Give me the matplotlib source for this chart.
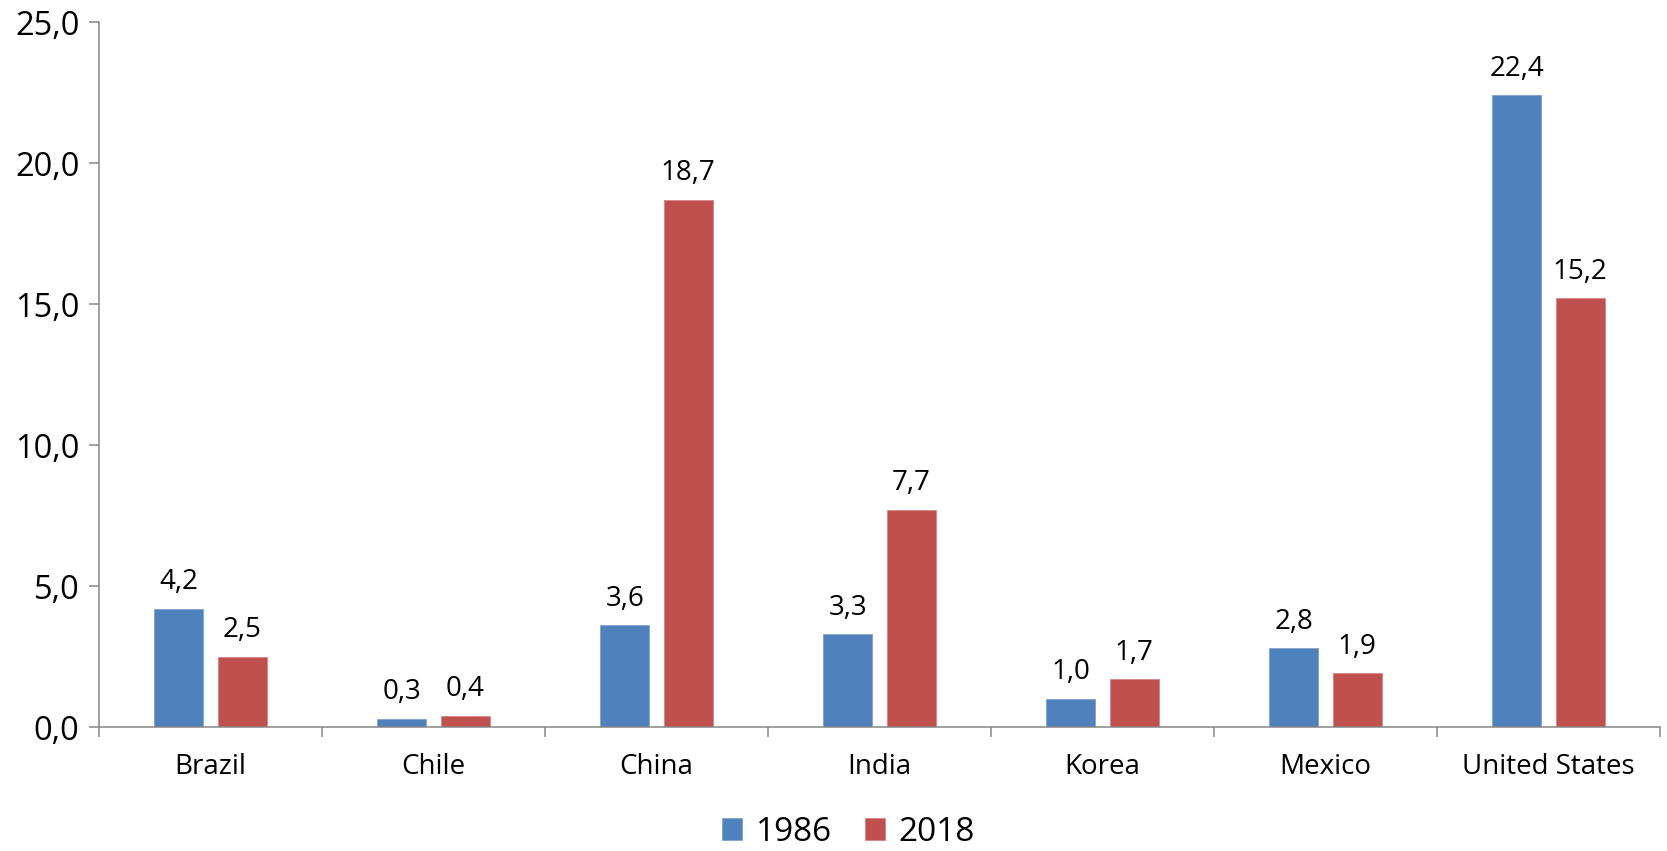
import numpy as np
import matplotlib.pyplot as plt

countries = ["Brazil", "Chile", "China", "India", "Korea", "Mexico", "United States"]
v1986 = [4.2, 0.3, 3.6, 3.3, 1.0, 2.8, 22.4]
v2018 = [2.5, 0.4, 18.7, 7.7, 1.7, 1.9, 15.2]
yticks = [0, 5, 10, 15, 20, 25]

blue = "#4F81BD"
red = "#C0504D"
axis_col = "#868686"

plt.rcParams["font.family"] = ["Open Sans", "DejaVu Sans"]

fig = plt.figure(figsize=(16.67, 8.51), dpi=100)
ax = fig.add_axes([0.0594, 0.1457, 0.9958 - 0.0594, 0.9741 - 0.1457])

x = np.arange(len(countries))
w = 0.22
off = 0.142
b1 = ax.bar(x - off, v1986, w, color=blue, edgecolor="#7FA3D1", linewidth=0.6, label="1986")
b2 = ax.bar(x + off, v2018, w, color=red, edgecolor="#D98583", linewidth=0.6, label="2018")

for bars in (b1, b2):
    for rect in bars:
        h = rect.get_height()
        ax.annotate(f"{h:.1f}".replace(".", ","),
                    (rect.get_x() + rect.get_width() / 2, h),
                    xytext=(0, 14), textcoords="offset points",
                    ha="center", va="baseline", fontsize=20)

ax.set_xlim(-0.5, len(countries) - 0.5)
ax.set_ylim(0, 25)
ax.set_yticks(yticks)
ax.set_yticklabels([f"{t:.1f}".replace(".", ",") for t in yticks], fontsize=23.5)
ax.set_xticks(x)
ax.set_xticklabels(countries, fontsize=20)
ax.set_xticks(np.arange(len(countries) + 1) - 0.5, minor=True)

ax.tick_params(axis="x", which="major", length=0, pad=19)
ax.tick_params(axis="x", which="minor", length=7.2, width=1.1, color=axis_col, direction="out")
ax.tick_params(axis="y", length=7.2, width=1.1, color=axis_col, pad=7)

for s in ("top", "right"):
    ax.spines[s].set_visible(False)
for s in ("left", "bottom"):
    ax.spines[s].set_color(axis_col)
    ax.spines[s].set_linewidth(1.1)

fig.legend(handles=[b1, b2], loc="center", bbox_to_anchor=(0.509, 0.022),
           ncol=2, frameon=False, fontsize=24, handlelength=0.6, handleheight=0.6,
           handletextpad=0.4, columnspacing=1.0)

fig.savefig("out.png", dpi=100)
